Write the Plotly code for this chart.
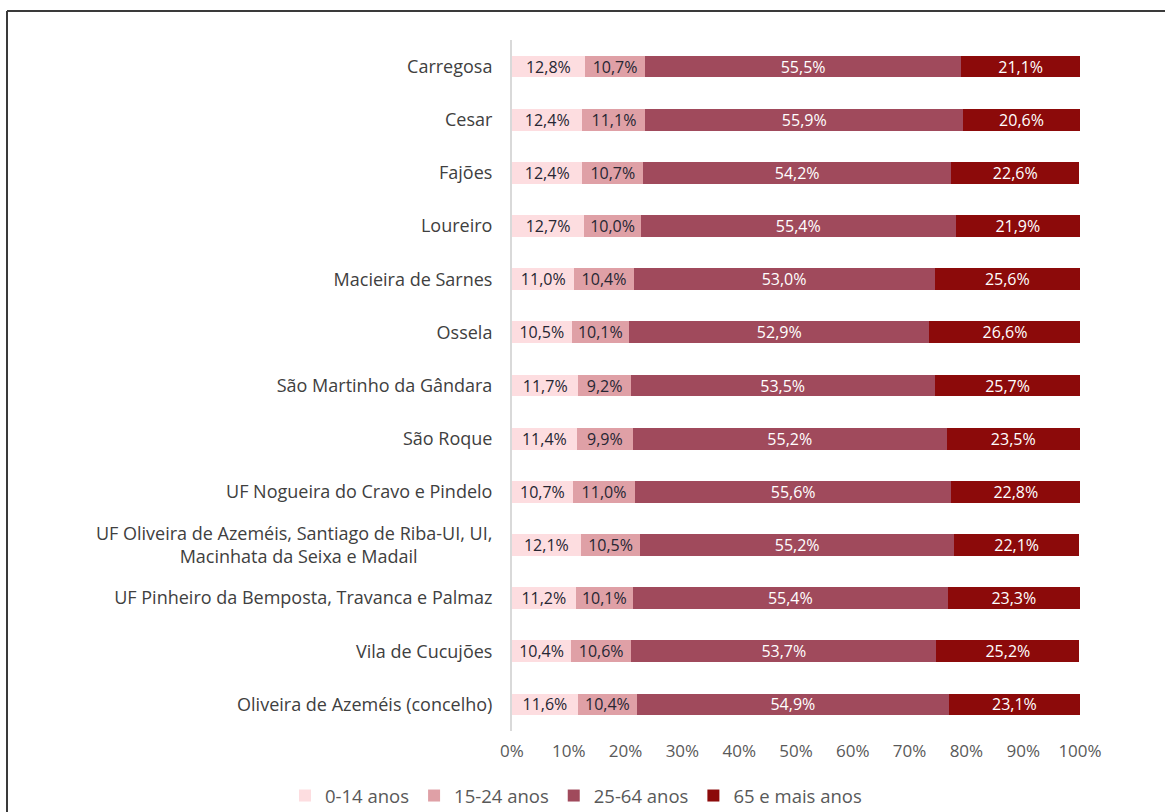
import plotly.graph_objects as go

NB = "\u00a0"
categories = [
    "Carregosa",
    "Cesar",
    "Fajões",
    "Loureiro",
    "Macieira de Sarnes",
    "Ossela",
    "São Martinho da Gândara",
    "São Roque",
    "UF Nogueira do Cravo e Pindelo",
    "UF Oliveira de Azeméis, Santiago de Riba-UI, UI,<br>Macinhata da Seixa e Madail" + NB * 16,
    "UF Pinheiro da Bemposta, Travanca e Palmaz",
    "Vila de Cucujões",
    "Oliveira de Azeméis (concelho)",
]

age_0_14 = [12.8, 12.4, 12.4, 12.7, 11.0, 10.5, 11.7, 11.4, 10.7, 12.1, 11.2, 10.4, 11.6]
age_15_24 = [10.7, 11.1, 10.7, 10.0, 10.4, 10.1, 9.2, 9.9, 11.0, 10.5, 10.1, 10.6, 10.4]
age_25_64 = [55.5, 55.9, 54.2, 55.4, 53.0, 52.9, 53.5, 55.2, 55.6, 55.2, 55.4, 53.7, 54.9]
age_65 = [21.1, 20.6, 22.6, 21.9, 25.6, 26.6, 25.7, 23.5, 22.8, 22.1, 23.3, 25.2, 23.1]

series_names = ["0-14 anos", "15-24 anos", "25-64 anos", "65 e mais anos"]
series_values = [age_0_14, age_15_24, age_25_64, age_65]
x_ticks = [0, 10, 20, 30, 40, 50, 60, 70, 80, 90, 100]
x_tick_labels = ["0%", "10%", "20%", "30%", "40%", "50%", "60%", "70%", "80%", "90%", "100%"]

colors = ["#FDDDE0", "#DFA0A6", "#A04A5C", "#8C0A0A"]
text_colors = ["#262633", "#262633", "#FFFFFF", "#FFFFFF"]
FONT = "Open Sans"

fig = go.Figure()
for name, vals, col, tcol in zip(series_names, series_values, colors, text_colors):
    fig.add_trace(go.Bar(
        y=categories,
        x=vals,
        name=name,
        orientation="h",
        marker=dict(color=col, line=dict(width=0)),
        texttemplate="%{x:.1f}%",
        textposition="inside",
        insidetextanchor="middle",
        textangle=0,
        textfont=dict(family=FONT, size=16, color=tcol),
        hoverinfo="skip",
    ))

W, H = 1165, 812
L, R, T, B = 512, 85, 40, 81
pw = W - L - R
ph = H - T - B

def px_to_paper_x(px):
    return (px - L) / pw

def py_to_paper_y(py):
    return (H - B - py) / ph

fig.update_layout(
    width=W,
    height=H,
    barmode="stack",
    bargap=0.59,
    separators=",.",
    margin=dict(l=L, r=R, t=T, b=B, pad=0, autoexpand=False),
    plot_bgcolor="white",
    paper_bgcolor="white",
    font=dict(family=FONT, size=17, color="#595959"),
    uniformtext=dict(mode="show", minsize=16),
    showlegend=True,
    legend=dict(
        orientation="h",
        x=px_to_paper_x(285),
        xanchor="left",
        y=py_to_paper_y(796),
        yanchor="middle",
        font=dict(family=FONT, size=18.5, color="#595959"),
        itemwidth=30,
        traceorder="normal",
        bgcolor="rgba(0,0,0,0)",
    ),
    xaxis=dict(
        range=[0, 100],
        tickvals=x_ticks,
        ticktext=x_tick_labels,
        showgrid=False,
        zeroline=False,
        showline=False,
        ticks="outside",
        ticklen=5,
        tickcolor="rgba(0,0,0,0)",
        tickfont=dict(family=FONT, size=17, color="#595959"),
        fixedrange=True,
    ),
    yaxis=dict(
        autorange="reversed",
        showgrid=False,
        zeroline=False,
        showline=True,
        linecolor="#D9D9D9",
        linewidth=2,
        ticks="",
        ticklabelstandoff=14,
        tickfont=dict(family=FONT, size=18, color="#404040"),
        fixedrange=True,
    ),
    shapes=[
        dict(type="line", xref="paper", yref="paper",
             x0=px_to_paper_x(7), x1=px_to_paper_x(1200),
             y0=py_to_paper_y(11), y1=py_to_paper_y(11),
             line=dict(color="#3A3A3A", width=2)),
        dict(type="line", xref="paper", yref="paper",
             x0=px_to_paper_x(7), x1=px_to_paper_x(7),
             y0=py_to_paper_y(11), y1=py_to_paper_y(830),
             line=dict(color="#3A3A3A", width=2)),
    ],
)

fig.write_html("out.html", config={"displayModeBar": False},
               post_script="document.body.style.margin='0';")
